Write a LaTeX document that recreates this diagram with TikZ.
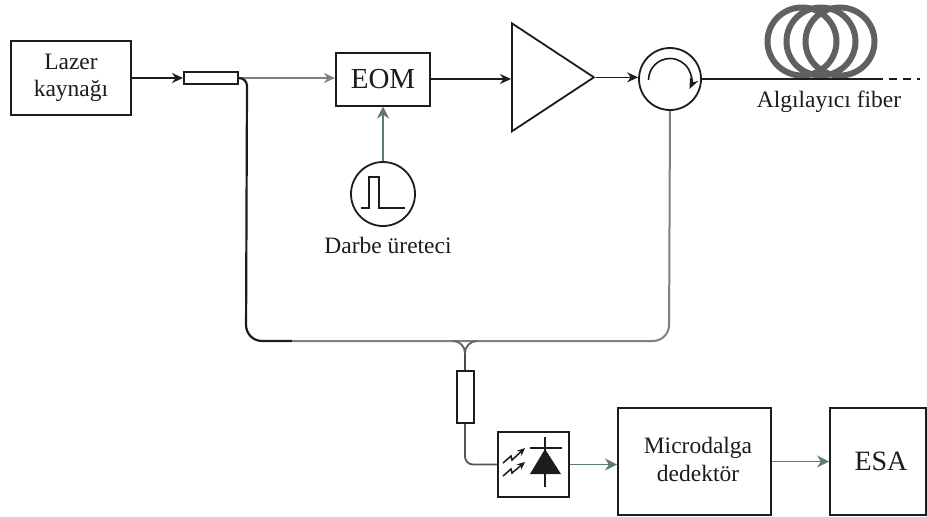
\documentclass[tikz,border=0pt]{standalone}
\usepackage{fontspec}
\setmainfont{Liberation Serif}
\usepackage{xcolor}
\usetikzlibrary{calc,arrows.meta,positioning,shapes.geometric}
\definecolor{inkx}{HTML}{1C1C1C}
\definecolor{fibgray}{HTML}{808080}
\definecolor{tealx}{HTML}{5F7A72}
\definecolor{coilx}{HTML}{606060}
\tikzset{
  ar/.style={-{Stealth[length=11pt,width=10pt]},line width=1.6pt,inkx},
  argr/.style={-{Stealth[length=12pt,width=12pt]},line width=1.7pt,tealx},
  fib/.style={line width=1.8pt,inkx},
  fibg/.style={line width=2pt,fibgray},
  box/.style={draw=inkx,line width=2pt,fill=white,align=center,inner sep=0pt},
  ring/.style={circle,draw=inkx,line width=1.8pt,fill=white,inner sep=0pt},
  lbl/.style={font=\fontsize{23.5}{27}\selectfont,align=center,text=inkx,inner sep=0pt},
  coil/.style={draw=coilx,line width=6pt}
}
\begin{document}
\begin{tikzpicture}[x=1pt,y=-1pt]
\useasboundingbox (0,0) rectangle (927,517);
\def\rx{34.5}\def\ry{34}
\draw[coil] (802,41.5) ellipse [x radius=\rx,y radius=\ry];
\draw[coil] (821,41.5) ellipse [x radius=\rx,y radius=\ry];
\draw[coil] (840,41.5) ellipse [x radius=\rx,y radius=\ry];
\node[box,lbl,minimum width=120pt,minimum height=74pt] (laser) at (71,78) {Lazer\\kaynağı};
\node[box,minimum width=54pt,minimum height=12pt] (coupler) at (211,78) {};
\node[box,lbl,minimum width=94pt,minimum height=53pt,font=\fontsize{29}{32}\selectfont] (eom) at (383,79) {EOM};
\node[isosceles triangle,isosceles triangle apex angle=67,isosceles triangle stretches,draw=inkx,line width=1.8pt,fill=white,inner sep=0pt,minimum height=82pt,minimum width=108pt,anchor=right corner] (amp) at (511,133) {};
\node[ring,minimum size=62pt] (circ) at (670,79) {};
\node[ring,minimum size=64pt] (pulse) at (383,194) {};
\node[lbl] (pulselbl) at (388,245) {Darbe üreteci};
\node[lbl] (fiberlbl) at (829,102) {Algılayıcı fiber};
\node[box,minimum width=17pt,minimum height=52pt] (filter) at (465,397) {};
\node[box,minimum width=71pt,minimum height=65pt] (pd) at (533.5,464.5) {};
\node[box,minimum width=153pt,minimum height=107pt] (micro) at (694.5,461.5) {};
\node[lbl,font=\fontsize{23.5}{28}\selectfont] (microlbl) at (698,459) {Microdalga\\dedektör};
\node[box,minimum width=96pt,minimum height=107pt] (esa) at (878,461.5) {};
\node[lbl,font=\fontsize{28}{32}\selectfont] (esalbl) at (881,461) {ESA};
\coordinate (fiberend) at (875,79);
\coordinate (dashend) at (920,79);
\coordinate (ystem) at (465,353);
\coordinate (yleft) at (453,341);
\coordinate (yright) at (477,341);
\coordinate (leftdrop) at (246,341);
\coordinate (midfib) at (292,341);
\coordinate (rightdrop) at (669,341);
\draw[ar] (laser.east) -- (coupler.west);
\draw[fibg,-{Stealth[length=11pt,width=10pt]}] (coupler.east) -- (coupler.east -| eom.west);
\draw[ar] (eom.east) -- (eom.east -| amp.west);
\draw[ar] (amp.apex) -- (amp.apex -| circ.west);
\draw[argr] (pulse.north) -- (eom.south);
\draw[fib,line width=2pt] (circ.east) -- (fiberend);
\draw[fib,dash pattern=on 8pt off 6pt] (fiberend) -- (dashend);
\draw[fib,line width=2.2pt] (coupler.east) to[out=0,in=90] ++(8,8) [rounded corners=16pt] -- (leftdrop) -- (midfib);
\draw[fibg,rounded corners=16pt] (midfib) -- (rightdrop) -- (circ.south);
\draw[fib,fibgray!70!inkx] (yleft) to[out=0,in=90] (ystem);
\draw[fib,fibgray!70!inkx] (yright) to[out=180,in=90] (ystem);
\draw[fib,inkx!80] (ystem) -- (filter.north);
\draw[fib,inkx!75,rounded corners=8pt] (filter.south) |- (pd.west);
\draw[argr] (pd.east) -- (micro.west |- pd.east);
\draw[argr] (micro.east) -- (esa.west);
\draw[line width=1.6pt,inkx,-{Stealth[length=11pt,width=9pt]}] (648.5,80) arc[start angle=180,end angle=385,radius=21.5];
\draw[line width=1.8pt,inkx] (361,208) -- (369,208) -- (369,177) -- (379,177) -- (379,208) -- (405,208);
\draw[line width=1.8pt,inkx] (530,448) -- (562,448);
\draw[line width=1.8pt,inkx] (545,437) -- (545,487);
\fill[inkx] (545,449) -- (561,474) -- (530,474) -- cycle;
\draw[line width=1.5pt,inkx,-{Stealth[length=8pt,width=7pt]}] (503,463) -- (511,456) -- (512,460) -- (525,448);
\draw[line width=1.5pt,inkx,-{Stealth[length=8pt,width=7pt]}] (503,476) -- (511,469) -- (512,473) -- (525,462);
\end{tikzpicture}
\end{document}
